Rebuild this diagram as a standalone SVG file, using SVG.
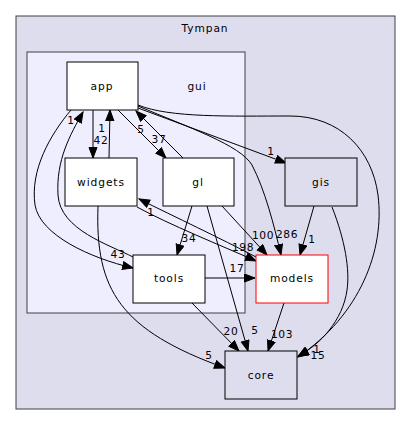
<svg xmlns="http://www.w3.org/2000/svg" width="411" height="425" viewBox="0 0 411 425">
<style>
text{font-family:"DejaVu Sans","Liberation Sans",sans-serif;font-size:10.67px;letter-spacing:0.9px;fill:#000;text-anchor:middle}
.el{letter-spacing:0.6px}
.node rect{fill:#fff;stroke:#000;stroke-width:1}
.node.out rect{fill:#ddddee}
.node.red rect{stroke:#ff0000}
.edges path{fill:none;stroke:#000;stroke-width:1;marker-end:url(#ah)}
</style>
<defs>
<marker id="ah" markerUnits="userSpaceOnUse" markerWidth="12" markerHeight="10" refX="11" refY="4.5" orient="auto">
<path d="M0.5,0.5 L11,4.5 L0.5,8.5 z" fill="#000" stroke="#000" stroke-width="1"/>
</marker>
</defs>
<rect width="411" height="425" fill="#fff"/>
<g id="cluster_Tympan">
<rect x="16" y="16" width="379" height="393" fill="#ddddee" stroke="#404040" stroke-width="1"/>
<text x="205" y="32">Tympan</text>
</g>
<g id="cluster_gui">
<rect x="27" y="52" width="218" height="261" fill="#eeeeff" stroke="#404040" stroke-width="1"/>
<text x="197" y="90">gui</text>
</g>
<g class="edges" id="edges">
<path d="M93,110 L93,158"/>
<path d="M109,158 L110,110"/>
<path d="M118,110 L166,158"/>
<path d="M183,158 L136,111"/>
<path d="M71,110 C50,135 30,170 35,205 C40,235 90,258 133,268"/>
<path d="M133,257 C110,245 60,230 58,195 C56,160 70,135 83,112"/>
<path d="M98,206 C95,290 120,330 225,368"/>
<path d="M137,207 C170,225 220,245 256,261"/>
<path d="M256,257 C220,238 175,217 139,199"/>
<path d="M192,206 L177,255"/>
<path d="M207,206 L248,351"/>
<path d="M222,206 L267,255"/>
<path d="M138,106 C190,128 240,145 252,165 C265,190 274,225 281,255"/>
<path d="M138,108 L286,163"/>
<path d="M138,105 C170,118 230,116 290,116 C340,116 372,150 378,195 C385,250 360,315 298,357"/>
<path d="M332,207 C345,240 350,270 347,290 C343,320 320,345 298,356"/>
<path d="M314,206 L300,255"/>
<path d="M205,278 L255,278"/>
<path d="M192,303 L239,351"/>
<path d="M284,303 L268,351"/>
</g>
<g id="edge_labels">
<text class="el" x="101" y="144">42</text>
<text class="el" x="102" y="132">1</text>
<text class="el" x="159" y="143">37</text>
<text class="el" x="141" y="133">5</text>
<text class="el" x="71" y="124">1</text>
<text class="el" x="118" y="258">43</text>
<text class="el" x="209" y="359">5</text>
<text class="el" x="243" y="251">198</text>
<text class="el" x="151" y="216">1</text>
<text class="el" x="189" y="242">34</text>
<text class="el" x="255" y="334">5</text>
<text class="el" x="263" y="239">100</text>
<text class="el" x="287" y="238">286</text>
<text class="el" x="271" y="155">1</text>
<text class="el" x="318" y="359">15</text>
<text class="el" x="317" y="353">1</text>
<text class="el" x="312" y="243">1</text>
<text class="el" x="237" y="272">17</text>
<text class="el" x="231" y="335">20</text>
<text class="el" x="282" y="338">103</text>
</g>
<g class="node" id="node_app"><rect x="67" y="62" width="71" height="48"/><text x="102" y="90">app</text></g>
<g class="node" id="node_widgets"><rect x="65" y="158" width="72" height="48"/><text x="101" y="186">widgets</text></g>
<g class="node" id="node_gl"><rect x="163" y="158" width="71" height="48"/><text x="198" y="186">gl</text></g>
<g class="node out" id="node_gis"><rect x="285" y="158" width="72" height="48"/><text x="321" y="186">gis</text></g>
<g class="node" id="node_tools"><rect x="133" y="255" width="72" height="48"/><text x="169" y="282">tools</text></g>
<g class="node red" id="node_models"><rect x="256" y="255" width="72" height="48"/><text x="292" y="282">models</text></g>
<g class="node out" id="node_core"><rect x="225" y="351" width="72" height="48"/><text x="261" y="379">core</text></g>
</svg>
